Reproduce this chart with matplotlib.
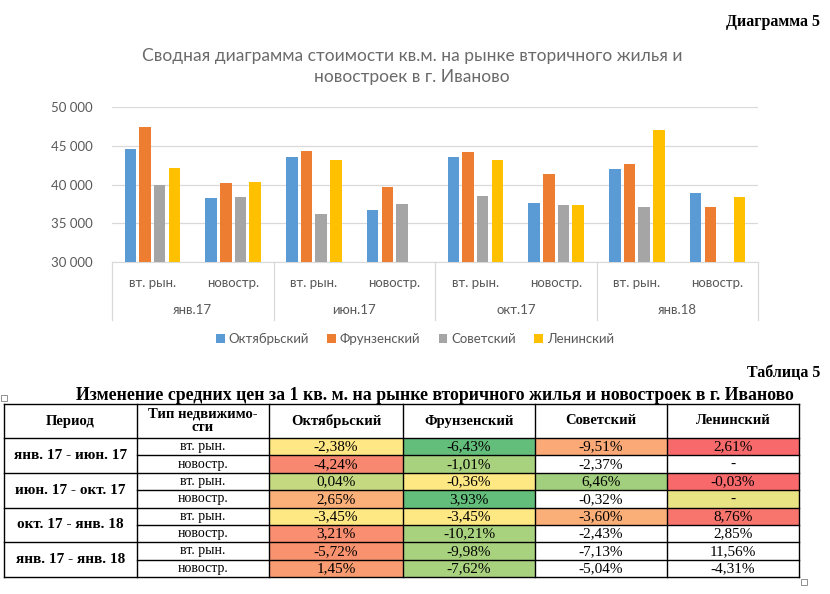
import matplotlib
matplotlib.use("Agg")
import matplotlib.pyplot as plt
from matplotlib.patches import Rectangle
import numpy as np

# ---------------------------------------------------------------- data
periods = ['янв.17', 'июн.17', 'окт.17', 'янв.18']
types = ['вт. рын.', 'новостр.']
districts = ['Октябрьский', 'Фрунзенский', 'Советский', 'Ленинский']

# average price per sq.m, order: (янв.17 вт, янв.17 нов, июн.17 вт, ...)
oktyabrsky = [44600, 38300, 43540, 36680, 43560, 37650, 42060, 38860]
frunzensky = [47400, 40150, 44350, 39740, 44190, 41300, 42670, 37090]
sovetsky = [40000, 38400, 36200, 37490, 38540, 37370, 37150, np.nan]
leninsky = [42100, 40300, 43200, np.nan, 43190, 37380, 46970, 38450]

# table 5
tbl_periods = ['янв. 17 - июн. 17', 'июн. 17 - окт. 17',
               'окт. 17 - янв. 18', 'янв. 17 - янв. 18']
tbl_oktyabrsky = ['-2,38%', '-4,24%', '0,04%', '2,65%', '-3,45%', '3,21%', '-5,72%', '1,45%']
tbl_frunzensky = ['-6,43%', '-1,01%', '-0,36%', '3,93%', '-3,45%', '-10,21%', '-9,98%', '-7,62%']
tbl_sovetsky = ['-9,51%', '-2,37%', '6,46%', '-0,32%', '-3,60%', '-2,43%', '-7,13%', '-5,04%']
tbl_leninsky = ['2,61%', '-', '-0,03%', '-', '8,76%', '2,85%', '11,56%', '-4,31%']

# cell fills (conditional formatting look)
W = 'white'
cell_colors = [
    ['#FEE784', '#63BE7B', '#FBAA77', '#F8696B'],
    ['#F98870', '#A9D27F', W, W],
    ['#C5DA80', '#FEE884', '#A2CF7E', '#F8696B'],
    ['#FBB079', '#63BE7B', W, '#E8E383'],
    ['#FEE884', '#FEE884', '#FBAF78', '#F8756D'],
    ['#F98E70', '#A9D27F', W, W],
    ['#F9936F', '#A9D27F', W, W],
    ['#FA9C72', '#A9D27F', W, W],
]

colors = ['#5B9BD5', '#ED7D31', '#A5A5A5', '#FFC000']
grey = '#595959'
cfont = 'Lato'
sfont = 'Liberation Serif'

fig = plt.figure(figsize=(8.3, 5.94), dpi=100)

# page overlay in pixel coords (for table + captions)
page = fig.add_axes([0, 0, 1, 1])
page.set_xlim(0, 830)
page.set_ylim(594, 0)
page.axis('off')

page.text(820, 22, 'Диаграмма 5', ha='right', va='center', fontsize=11.5,
          fontweight='bold', family=sfont)

fig.text(412/830, 1 - 66.5/594,
         'Сводная диаграмма стоимости кв.м. на рынке вторичного жилья и\nновостроек в г. Иваново',
         ha='center', va='center', fontsize=12.5, color='#6A6A6A', family=cfont,
         linespacing=1.45)

# ---------------------------------------------------------------- chart
ax = fig.add_axes([112/830, 1 - 262/594, (758-112)/830, 155/594])
ax.set_facecolor('none')
x = np.arange(len(periods) * len(types))
series = [oktyabrsky, frunzensky, sovetsky, leninsky]
step = 0.182
bw = 0.142
for i, (vals, c, name) in enumerate(zip(series, colors, districts)):
    ax.bar(x + (i - 1.5) * step, np.array(vals) - 30000, bw, bottom=30000,
           color=c, label=name, zorder=3)

ax.set_xlim(-0.5, 7.5)
ax.set_ylim(30000, 50000)
ax.set_yticks(np.arange(30000, 50001, 5000))
ax.set_yticklabels([f'{int(v):,}'.replace(',', ' ') for v in ax.get_yticks()],
                   fontsize=9.5, color=grey, family=cfont)
ax.tick_params(axis='y', length=0, pad=14)
ax.set_xticks([])
ax.grid(axis='y', color='#D9D9D9', linewidth=0.9, zorder=0)
for s in ['top', 'right', 'left']:
    ax.spines[s].set_visible(False)
ax.spines['bottom'].set_color('#D9D9D9')

trans = ax.get_xaxis_transform()
for k in range(len(periods) + 1):
    xs = -0.5 + 2 * k
    ax.plot([xs, xs], [0, -0.375], transform=trans, color='#D9D9D9',
            linewidth=0.9, clip_on=False)
for j in x:
    ax.text(j, -0.135, types[j % 2], transform=trans, ha='center', va='center',
            fontsize=9.5, color=grey, family=cfont)
for k, p in enumerate(periods):
    ax.text(2 * k + 0.5, -0.31, p, transform=trans, ha='center', va='center',
            fontsize=9.5, color=grey, family=cfont)

leg = fig.legend(loc='center', bbox_to_anchor=(415/830, 1 - 339/594), ncol=4,
                 frameon=False, handlelength=0.65, handleheight=0.65,
                 handletextpad=0.3, columnspacing=1.4,
                 prop={'family': cfont, 'size': 9.5})
for t in leg.get_texts():
    t.set_color(grey)

# ---------------------------------------------------------------- table
page.text(820, 373, 'Таблица 5', ha='right', va='center', fontsize=11.5,
          fontweight='bold', family=sfont)
page.text(435, 395, 'Изменение средних цен за 1 кв. м. на рынке вторичного жилья и новостроек в г. Иваново',
          ha='center', va='center', fontsize=12.8, fontweight='bold', family=sfont)

col_x = [4, 137, 269, 403, 535, 667, 799]
top, head_bot = 404, 438
row_h = (577 - head_bot) / 8
row_y = [head_bot + i * row_h for i in range(9)]

columns = [tbl_oktyabrsky, tbl_frunzensky, tbl_sovetsky, tbl_leninsky]
for r in range(8):
    for c in range(4):
        page.add_patch(Rectangle((col_x[c+2], row_y[r]), col_x[c+3] - col_x[c+2], row_h,
                                 facecolor=cell_colors[r][c], edgecolor='none'))
        page.text((col_x[c+2] + col_x[c+3]) / 2, row_y[r] + row_h / 2 + 0.5, columns[c][r],
                  ha='center', va='center', fontsize=11, family=sfont)
    page.text((col_x[1] + col_x[2]) / 2, row_y[r] + row_h / 2, types[r % 2],
              ha='center', va='center', fontsize=10, family=sfont)

for k, p in enumerate(tbl_periods):
    page.text((col_x[0] + col_x[1]) / 2, row_y[2*k] + row_h, p,
              ha='center', va='center', fontsize=11, fontweight='bold', family=sfont)

headers = ['Период', 'Тип недвижимо-\nсти'] + districts
for c, h in enumerate(headers):
    page.text((col_x[c] + col_x[c+1]) / 2, (top + head_bot) / 2, h, ha='center',
              va='center', fontsize=10.5, fontweight='bold', family=sfont, linespacing=1.0)

lw = 1.0
# horizontal lines
page.plot([col_x[0], col_x[-1]], [top, top], color='black', lw=lw)
page.plot([col_x[0], col_x[-1]], [head_bot, head_bot], color='black', lw=lw)
for r in range(1, 9):
    x0 = col_x[0] if r % 2 == 0 else col_x[1]
    page.plot([x0, col_x[-1]], [row_y[r], row_y[r]], color='black', lw=lw)
# vertical lines
for cx in col_x:
    page.plot([cx, cx], [top, row_y[-1]], color='black', lw=lw)

# little word-table handles
page.add_patch(Rectangle((1, 395), 6, 6, facecolor='white', edgecolor='#808080', lw=0.6))
page.add_patch(Rectangle((801, 579), 6, 6, facecolor='white', edgecolor='#808080', lw=0.6))

fig.savefig('out.png', dpi=100)
